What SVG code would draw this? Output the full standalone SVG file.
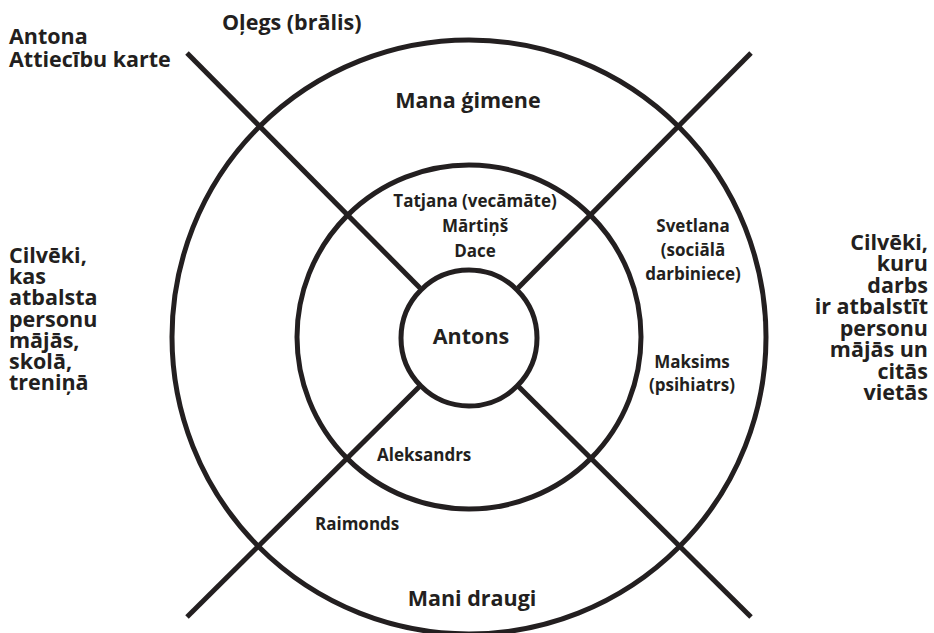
<svg xmlns="http://www.w3.org/2000/svg" width="934" height="633" viewBox="0 0 934 633">
  <style>
    .ring { fill: none; stroke: #231f20; stroke-width: 5; }
    .axis { stroke: #231f20; stroke-width: 5; stroke-linecap: butt; }
    text { font-family: "Open Sans", "Liberation Sans", sans-serif; font-weight: 700; fill: #231f20; }
    .big { font-size: 21.5px; }
    .mid { font-size: 17px; }
    .ctr { text-anchor: middle; }
    .end { text-anchor: end; }
  </style>
  <rect width="934" height="633" fill="#ffffff"/>
  <g id="connectors">
    <line class="axis" x1="187" y1="53" x2="420" y2="288"/>
    <line class="axis" x1="751" y1="53" x2="518" y2="288"/>
    <line class="axis" x1="187" y1="617" x2="420" y2="386"/>
    <line class="axis" x1="751" y1="617" x2="518" y2="386"/>
  </g>
  <g id="outer-ring">
    <circle class="ring" cx="469" cy="337" r="297"/>
  </g>
  <g id="middle-ring">
    <circle class="ring" cx="469" cy="337" r="172"/>
  </g>
  <g id="antons">
    <circle class="ring" cx="469" cy="338" r="68"/>
    <text class="ctr" x="471" y="344" font-size="21.5">Antons</text>
  </g>
  <g id="title">
    <text class="big" x="9" y="44">Antona</text>
    <text class="big" x="9" y="67">Attiecību karte</text>
  </g>
  <g id="olegs">
    <text class="big" x="222" y="30">Oļegs (brālis)</text>
  </g>
  <g id="mana-gimene">
    <text class="big ctr" x="468" y="108">Mana ģimene</text>
  </g>
  <g id="family">
    <text class="mid ctr" x="475" y="207">Tatjana (vecāmāte)</text>
    <text class="mid ctr" x="475" y="232">Mārtiņš</text>
    <text class="mid ctr" x="475" y="257">Dace</text>
  </g>
  <g id="svetlana">
    <text class="mid ctr" x="693" y="232">Svetlana</text>
    <text class="mid ctr" x="693" y="256">(sociālā</text>
    <text class="mid ctr" x="693" y="280">darbiniece)</text>
  </g>
  <g id="maksims">
    <text class="mid ctr" x="692" y="368">Maksims</text>
    <text class="mid ctr" x="692" y="391">(psihiatrs)</text>
  </g>
  <g id="aleksandrs">
    <text class="mid" x="377" y="461">Aleksandrs</text>
  </g>
  <g id="raimonds">
    <text class="mid" x="315" y="530">Raimonds</text>
  </g>
  <g id="mani-draugi">
    <text class="big ctr" x="472" y="606">Mani draugi</text>
  </g>
  <g id="left-group">
    <text class="big" x="9" y="263">Cilvēki,</text>
    <text class="big" x="9" y="284">kas</text>
    <text class="big" x="9" y="305">atbalsta</text>
    <text class="big" x="9" y="327">personu</text>
    <text class="big" x="9" y="348">mājās,</text>
    <text class="big" x="9" y="369">skolā,</text>
    <text class="big" x="9" y="390">treniņā</text>
  </g>
  <g id="right-group">
    <text class="big end" x="928" y="250">Cilvēki,</text>
    <text class="big end" x="928" y="271">kuru</text>
    <text class="big end" x="928" y="293">darbs</text>
    <text class="big end" x="928" y="314">ir atbalstīt</text>
    <text class="big end" x="928" y="336">personu</text>
    <text class="big end" x="928" y="357">mājās un</text>
    <text class="big end" x="928" y="379">citās</text>
    <text class="big end" x="928" y="400">vietās</text>
  </g>
</svg>
